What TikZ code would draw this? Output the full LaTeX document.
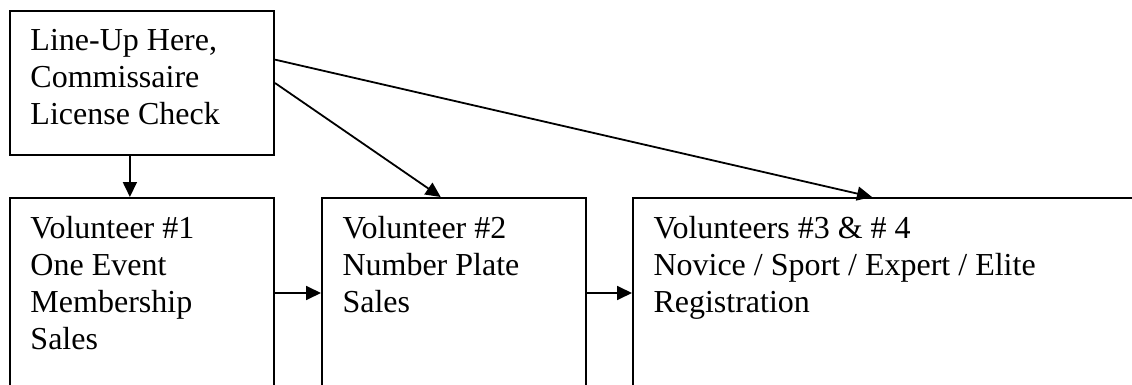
\documentclass[tikz,border=0pt]{standalone}
\usepackage{fontspec}
\setmainfont{Liberation Serif}
\usetikzlibrary{arrows.meta,calc}
\newcommand{\boxtext}[3]{\begin{minipage}[t][#2][t]{#1}\fontsize{32pt}{37pt}\selectfont\raggedright\leftskip=20.5pt\parindent=0pt\rule{0pt}{40pt}#3\end{minipage}}
\tikzset{
  stagebox/.style={draw=black, line width=2pt, inner sep=0pt, anchor=north west},
  conn/.style={line width=1.8pt, -{Triangle[length=15pt,width=14pt]}}
}
\begin{document}
\begin{tikzpicture}[x=1pt,y=-1pt]
\useasboundingbox (0,0) rectangle (1132,385);
\clip (0,0) rectangle (1132,385);
\fill[white] (0,0) rectangle (1132,385);
\node[stagebox] (top) at (9,10) {\boxtext{264pt}{144pt}{Line-Up Here,\\Commissaire\\License Check}};
\node[stagebox] (b1) at (9,197) {\boxtext{264pt}{260pt}{Volunteer \#1\\One Event\\Membership\\Sales}};
\node[stagebox] (b2) at (321,197) {\boxtext{264pt}{260pt}{Volunteer \#2\\Number Plate\\Sales}};
\node[stagebox] (b3) at (632,197) {\boxtext{600pt}{260pt}{Volunteers \#3 \& \# 4\\Novice / Sport / Expert / Elite\\Registration}};
\coordinate (t1) at ($(top.south west)!0.4545!(top.south east)$);
\draw[conn] (t1) -- (t1 |- b1.north);
\draw[conn] (top.east) -- ($(b2.north west)!0.45!(b2.north east)$);
\draw[conn] ($(top.north east)!0.34!(top.south east)$) -- ([xshift=240pt]b3.north west);
\draw[conn] ([yshift=-96pt]b1.north east) -- ([yshift=-96pt]b2.north west);
\draw[conn] ([yshift=-96pt]b2.north east) -- ([yshift=-96pt]b3.north west);
\end{tikzpicture}
\end{document}
